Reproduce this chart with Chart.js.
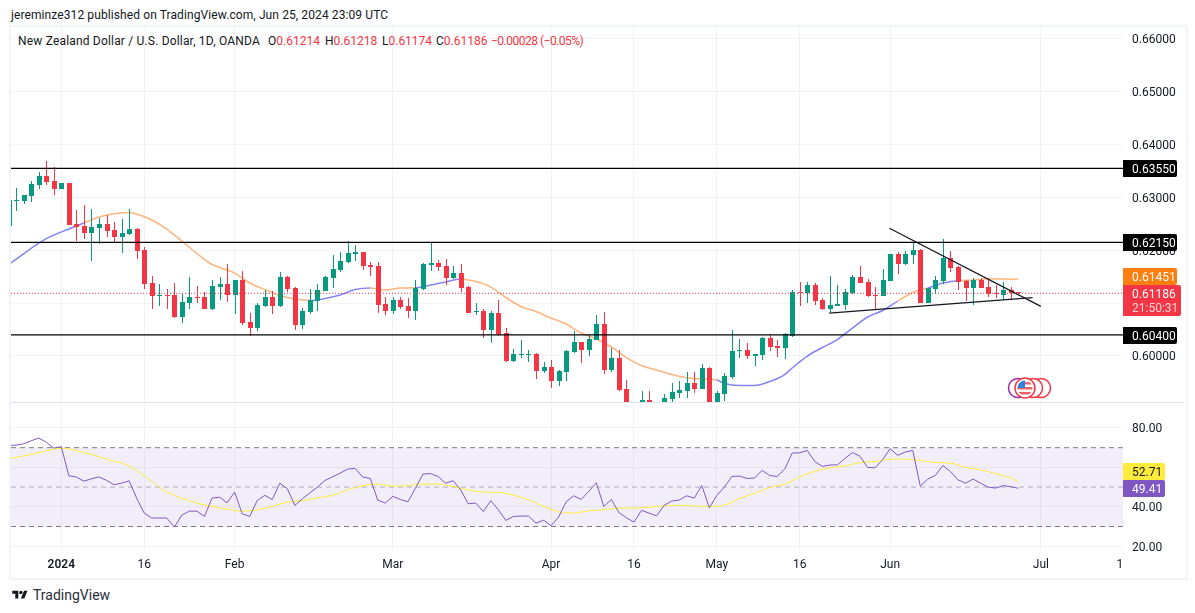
<!DOCTYPE html>
<html><head><meta charset="utf-8">
<style>
html,body{margin:0;padding:0;background:#fff;width:1195px;height:613px;overflow:hidden}
body{position:relative;font-family:Roboto,sans-serif;color:#131722}
canvas{position:absolute;left:0}
.t{position:absolute;white-space:pre;font-size:12px;line-height:14px;letter-spacing:.1px}
.r{color:#f23645}
#frame{position:absolute;left:9px;top:25px;width:1175px;height:551px;border:2px solid #f0f3fa}
#sep{position:absolute;left:11px;top:402px;width:1173px;height:1px;background:#e0e3eb}
</style></head><body>
<div id="frame"></div>
<div class="t" style="left:11px;top:8px">jereminze312 published on TradingView.com, Jun 25, 2024 23:09 UTC</div>
<div class="t" style="left:18px;top:34px;letter-spacing:.18px">New Zealand Dollar / U.S. Dollar, 1D, OANDA</div>
<div class="t" style="left:268px;top:34px;letter-spacing:0">O<span class="r">0.61214</span></div>
<div class="t" style="left:325px;top:34px;letter-spacing:0">H<span class="r">0.61218</span></div>
<div class="t" style="left:382px;top:34px;letter-spacing:0">L<span class="r">0.61174</span></div>
<div class="t" style="left:436px;top:34px;letter-spacing:0">C<span class="r">0.61186</span></div>
<div class="t r" style="left:491px;top:34px;letter-spacing:-.5px">−0.00028 (−0.05%)</div>
<canvas id="price" width="1195" height="375" style="top:27px;width:1195px;height:375px"></canvas>
<canvas id="rsi" width="1195" height="175" style="top:403px;width:1195px;height:175px"></canvas>
<div id="sep"></div>
<svg style="position:absolute;left:10px;top:589px" width="20" height="12" viewBox="0 0 36 28"><path fill="#131722" d="M14 22H7V11H0V4h14v18zM28 22h-8l7.5-18h8L28 22z"/><circle fill="#131722" cx="20" cy="8" r="4"/></svg>
<div class="t" style="left:33px;top:587px;font-size:14px;line-height:16px;color:#2a2e39;letter-spacing:0">TradingView</div>
<script src="https://cdn.jsdelivr.net/npm/chart.js@4/dist/chart.umd.min.js"></script>
<script>
const firstBar = -7;
const opens = [.6246,.6294,.62934,.63028,.63236,.63407,.63312,
.63161,.63274,.62498,.6246,.62328,.62422,.62498,.62385,.62252,.62309,
.62404,.62006,.61381,.61135,.61154,.61154,.60738,.61003,.61116,.61116,
.60889,.61306,.61362,.61154,.61438,.60643,.60529,.60946,.61116,.60946,
.61495,.61287,.60586,.60832,.6104,.6123,.61475,.61627,.61778,.6193,
.61968,.61721,.61703,.60983,.60851,.61059,.60945,.60851,.61267,.61721,
.61759,.61703,.61475,.6157,.61305,.60832,.60851,.60491,.60813,.60434,
.59904,.60018,.60018,.60037,.59715,.59791,.59526,.59696,.60075,.60264,
.60112,.60302,.60605,.59734,.59961,.59374,.5895,.5895,.59166,.5895,
.5905,.59185,.59299,.59337,.59488,.59374,.59772,.5895,.5928,.59601,
.60094,.60113,.59999,.60018,.6034,.60188,.6015,.60378,.61211,.61192,
.61344,.6106,.60889,.60946,.60965,.61192,.61495,.614,.61154,.61135,
.61419,.6193,.61741,.61911,.62006,.61003,.61268,.61419,.61855,.61684,
.61419,.61287,.61438,.61306,.61192,.6115,.61249,.61214];
const highs = [.62952,.6318,.63047,.63312,.63483,.63691,.63577,
.63274,.63274,.62763,.62858,.62782,.62612,.62669,.62536,.62593,.62782,
.62422,.62063,.61514,.61362,.61268,.61381,.61179,.61495,.61325,.61211,
.61438,.61495,.61741,.61438,.61609,.60813,.61003,.61249,.6123,.6159,
.61514,.61306,.60907,.61267,.61362,.61513,.61911,.61968,.62176,.621,
.61968,.61778,.61778,.61116,.61116,.61116,.61097,.61437,.61759,.62157,
.61816,.61835,.61703,.6174,.61324,.61002,.60889,.60851,.61059,.60529,
.60131,.60302,.60112,.60056,.59885,.59923,.59734,.60112,.60472,.60264,
.60396,.60775,.6083,.6015,.60113,.59545,.5905,.59336,.59336,.591,
.5928,.59488,.59526,.59696,.59696,.59848,.59791,.59337,.59677,.60491,
.60321,.60245,.60037,.60359,.60397,.60302,.60434,.61249,.614,.614,
.61381,.61097,.61514,.61344,.61268,.61533,.61703,.61457,.61306,.61646,
.6193,.61968,.61987,.62158,.62025,.61287,.61514,.62214,.61987,.61703,
.61438,.61476,.61476,.61476,.61344,.614,.61306,.61218];
const lows = [.6246,.62751,.62877,.62915,.63161,.63236,.63047,
.63161,.62479,.62176,.62214,.61798,.6212,.62252,.62157,.61949,.6229,
.61836,.61268,.60889,.60946,.60889,.60719,.60624,.60889,.61003,.60889,
.6087,.61059,.61022,.60794,.60586,.60378,.60473,.60927,.60794,.60927,
.61211,.60492,.6051,.60794,.60851,.6123,.61286,.61589,.61759,.61797,
.61627,.61513,.60813,.60775,.60794,.60889,.60718,.6068,.61248,.61608,
.61608,.61343,.61456,.6121,.60813,.60775,.6034,.60245,.60377,.59885,
.59885,.59961,.59885,.59563,.59677,.59393,.59431,.59526,.60056,.59866,
.59999,.60302,.59658,.59696,.59337,.588,.588,.588,.588,.588,
.589,.5905,.59204,.59204,.59299,.59374,.5885,.5885,.59147,.59564,
.59961,.59942,.5981,.59923,.60094,.5998,.59942,.60359,.60946,.61003,
.60965,.6087,.60832,.60946,.6087,.61173,.61381,.61116,.6087,.61135,
.61419,.61552,.61722,.61741,.61003,.61003,.61173,.61362,.6159,.61249,
.61041,.60965,.61287,.61116,.61097,.6106,.6106,.61174];
const closes = [.62952,.62952,.63047,.63255,.63407,.63293,.63161,
.63274,.62479,.62441,.62328,.62441,.62498,.62366,.62252,.62328,.62404,
.61987,.61362,.61135,.61154,.61135,.60738,.61022,.61116,.61097,.60889,
.61325,.61362,.61154,.61438,.60624,.60529,.60965,.61116,.60946,.61495,
.61268,.60586,.60851,.61059,.61248,.61495,.61646,.61797,.61949,.61968,
.61703,.61684,.60964,.60851,.61059,.60926,.60851,.61286,.6174,.61759,
.61684,.61475,.6157,.61286,.60813,.60851,.60491,.60813,.60415,.59904,
.60037,.60037,.60037,.59715,.59791,.59526,.59715,.60094,.60264,.60112,
.60321,.60605,.59734,.59961,.59355,.5895,.5885,.59166,.5895,.5905,
.59204,.59318,.59355,.59488,.59374,.59772,.5895,.59299,.5962,.60094,
.60113,.59999,.60037,.6034,.60169,.6015,.60415,.61211,.61192,.61344,
.61041,.60889,.60965,.60984,.61211,.61495,.61381,.61135,.61135,.61438,
.6193,.61741,.6193,.62006,.61003,.61287,.61438,.61855,.61665,.614,
.61287,.61438,.61287,.61173,.61173,.61249,.61192,.61186];
const maBars = [-7,-2,1,3,5,7,9,10,12,14,16,18,20,22,23,25,27,29,31,33,35,37,39,41,43,45,47,49,51,53,55,57,59,61,63,65,67,69,71,73,75,77,79,81,83,85,87,88,90,92,94,96,97,99,101,103,105,107,109,111,113,115,117,119,121,123,125,127];
const maValues = [.61731,.6222,.62403,.62517,.6263,.62693,.62716,.62687,.62574,.62403,.62176,.6194,.61731,.61627,.6157,.61381,.61258,.61144,.61078,.6105,.61088,.61154,.61258,.61286,.61249,.61286,.61292,.61343,.614,.61457,.61409,.61305,.61107,.60936,.60842,.60718,.60605,.60435,.60321,.6017,.59971,.59819,.59734,.59649,.59589,.59564,.59545,.59479,.59441,.59441,.59517,.59649,.59772,.59999,.6016,.60311,.60529,.60738,.60861,.6104,.61201,.61286,.61381,.61425,.61438,.61462,.61455,.61451];
const maAboveRanges = [[2,32],[41,47],[53,87],[111,115],[119,127]];
const levels = [0.6355,0.6215,0.604];
const fallingTrend = [[109.9,.62417],[130,.6094]];
const risingTrend = [[101.9,.60813],[128.9,.61103]];
const lastClose = 0.61186, maLast = 0.61451;
const priceTicks = [.60,.61,.62,.63,.64,.65,.66];
const rsiValues = [71.15,71.3,72.0,73.5,74.9,72.8,69.8,
70.5,55.75,55.1,53.0,54.2,55.2,53.4,51.2,52.0,53.2,
44.4,36.8,34.3,34.3,34.3,29.7,35.8,37.8,37.8,35.1,
44.4,44.9,42.0,47.5,36.5,35.1,43.2,45.8,43.7,52.0,
49.15,40.7,44.1,47.1,50.0,53.4,55.2,57.1,59.1,59.5,
55.1,54.4,43.4,41.9,45.3,43.7,42.55,49.5,56.6,56.9,
55.4,52.0,53.2,48.6,41.5,41.9,37.6,43.1,38.5,33.1,
35.1,35.3,35.3,31.7,33.2,30.4,34.8,42.55,45.6,43.7,
47.8,52.2,40.2,43.7,37.1,34.4,32.2,38.2,36.8,35.4,
40.7,42.9,43.4,45.6,44.4,50.8,39.5,45.8,50.0,55.4,
55.6,54.4,54.6,58.5,55.9,55.4,59.1,67.3,67.4,68.6,
63.0,60.5,61.2,61.3,64.5,67.6,65.6,60.0,59.8,63.9,
69.5,66.1,67.8,68.6,50.5,54.1,55.9,61.0,57.9,53.7,
52.0,54.1,52.0,50.0,49.5,50.8,50.2,49.41];
const rsiMaBars = [-7,-4,-1,0,3,6,9,10,12,14,16,18,20,22,24,26,28,30,32,34,36,38,40,42,44,46,48,50,52,54,56,58,60,62,64,66,68,70,72,74,76,78,80,82,84,86,88,90,92,94,96,98,100,102,104,106,108,110,112,114,116,118,120,122,124,126,127];
const rsiMaValues = [64.4,66.6,69.3,69.8,67.6,64.2,60.8,58.5,52.9,47.5,44.4,41.9,40.2,38.8,37.8,38.5,40.2,42.4,43.1,44.6,45.8,48.6,50.7,51.5,50.5,50.7,51.5,51.5,50.3,48.6,47.5,47.3,45.9,43.6,40.2,37.5,36.8,38,38.5,39.3,39.3,39.8,40.5,40.7,40.4,40.2,40.9,44.2,46.9,49.8,51.5,55.1,58.1,59.8,60.7,62.5,63,64.2,64.2,63.4,62.5,62.2,60,58.8,56.8,54.6,52.71];
const rsiTicks = [20,40,60,80];
const rsiLast = 49.41, rsiMaLast = 52.71;
const timeTickBars = [0,11,23,44,65,76,87,98,110,130,140.5];
const timeTickLabels = ['2024','16','Feb','Mar','Apr','16','May','16','Jun','Jul','1'];

const FONT = 'Roboto, sans-serif', GREEN = '#089981', RED = '#f23645', GRID = 'rgba(42,46,57,0.06)';
const xMin = -6.676, xMax = 140.9;
const barX = i => firstBar + i;
const up = i => closes[i] >= opens[i];
const candleColor = i => up(i) ? GREEN : RED;
const noPad = s => {s.paddingTop=0;s.paddingBottom=0;s.paddingLeft=0;s.paddingRight=0;};
// Tick text sits a little below the gridline in the reference.
const nudgeLabels = s => {
  if(s._nudged) return; s._nudged = true;
  const orig = s.drawLabels;
  s.drawLabels = function(area){const c=this.ctx;c.save();c.translate(0,1.5);orig.call(this,area);c.restore();};
};

// Snap candle bars to whole pixels so wicks and bodies stay crisp.
const snapBars = {id:'snapBars', afterDatasetsUpdate(chart){
  chart.getSortedVisibleDatasetMetas().forEach(m=>{
    if(m.type!=='bar') return;
    m.data.forEach(el=>{
      el.x = Math.round(el.x)+0.5; el.y = Math.round(el.y); el.base = Math.round(el.base);
      if(Math.abs(el.y-el.base)<1) el.base = el.y+1;
    });
  });
}};
function tag(ctx, top, h, w, bg, lines){
  ctx.fillStyle = bg; ctx.beginPath(); ctx.roundRect(1123, top, w, h, [0,2,2,0]); ctx.fill();
  ctx.textBaseline='middle'; ctx.textAlign='left'; ctx.font='12px '+FONT;
  lines.forEach(l=>{ctx.fillStyle=l.c; ctx.fillText(l.t,1132,l.y);});
}
function flag(ctx){
  const rings=[[1018,388,'#9c27b0'],[1041,388,RED],[1033,388,RED]];
  ctx.lineWidth=1.5;
  rings.forEach(r=>{ctx.beginPath();ctx.arc(r[0],r[1],9.5,0,Math.PI*2);ctx.fillStyle='#fff';ctx.fill();ctx.strokeStyle=r[2];ctx.stroke();});
  const cx=1025,cy=388;
  ctx.beginPath();ctx.arc(cx,cy,10,0,Math.PI*2);ctx.fillStyle='#fff';ctx.fill();ctx.strokeStyle=RED;ctx.stroke();
  ctx.save();ctx.beginPath();ctx.arc(cx,cy,7.5,0,Math.PI*2);ctx.clip();
  ctx.fillStyle='#fff';ctx.fillRect(cx-8,cy-8,16,16);
  ctx.fillStyle='#f0616d';[-6,-1,4].forEach(d=>ctx.fillRect(cx-8,cy+d,16,2.5));
  ctx.fillStyle='#2f80d8';ctx.fillRect(cx-8,cy-8,8,8);
  ctx.restore();
}
const priceTags = {id:'priceTags', afterDraw(chart){
  const ctx=chart.ctx, y=chart.scales.y; ctx.save();
  levels.forEach(v=>{const p=Math.round(y.getPixelForValue(v));
    tag(ctx,p-8,17,54,'#000',[{t:v.toFixed(5),c:'#fff',y:p+2}]);});
  const p=Math.round(y.getPixelForValue(lastClose));
  tag(ctx,p-25,17,54,'#ff7f0e',[{t:maLast.toFixed(5),c:'#fff',y:p-15}]);
  tag(ctx,p-8,31,58,RED,[{t:lastClose.toFixed(5),c:'#fff',y:p+2},{t:'21:50:31',c:'#fdd0d4',y:p+16}]);
  ctx.restore();
  ctx.save(); ctx.translate(0,-27); flag(ctx); ctx.restore();
}};
const rsiTags = {id:'rsiTags', afterDraw(chart){
  const ctx=chart.ctx, y=chart.scales.y; ctx.save();
  const p=Math.round(y.getPixelForValue(rsiLast));
  tag(ctx,p-25,17,42,'#ffeb3b',[{t:rsiMaLast.toFixed(2),c:'#131722',y:p-15}]);
  tag(ctx,p-8,17,42,'#7e57c2',[{t:rsiLast.toFixed(2),c:'#fff',y:p+2}]);
  ctx.restore();
}};
const xBase = {type:'linear',min:xMin,max:xMax,offset:false,
  afterBuildTicks(s){s.ticks=timeTickBars.map(v=>({value:v}));},
  grid:{color:c=>c.tick&&c.tick.value===140.5?'transparent':GRID,drawTicks:false,offset:false},border:{display:false}};
const hline = (v,col,w,dash,order)=>({type:'line',data:[{x:xMin,y:v},{x:xMax,y:v}],borderColor:col,borderWidth:w,borderDash:dash,pointRadius:0,order});
const seg = (pts,col,w,order)=>({type:'line',data:pts.map(p=>({x:p[0],y:p[1]})),borderColor:col,borderWidth:w,pointRadius:0,order});

new Chart(document.getElementById('price'),{
  type:'bar',
  plugins:[snapBars,priceTags],
  data:{datasets:[
    ...levels.map(v=>hline(v,'#000',1.25,[],1)),
    seg(fallingTrend,'#131722',1.25,1), seg(risingTrend,'#131722',1.25,1),
    hline(lastClose,RED,1,[1,2],2),
    {type:'bar',data:opens.map((o,i)=>({x:barX(i),y:[o,closes[i]]})),backgroundColor:opens.map((o,i)=>candleColor(i)),barThickness:5,grouped:false,inflateAmount:0,borderWidth:0,order:3},
    {type:'bar',data:highs.map((h,i)=>({x:barX(i),y:[lows[i],h]})),backgroundColor:highs.map((h,i)=>candleColor(i)),barThickness:1,grouped:false,inflateAmount:0,borderWidth:0,order:4},
    {type:'line',data:maValues.map((v,i)=>({x:maBars[i],y:v})),borderWidth:1.5,pointRadius:0,cubicInterpolationMode:'monotone',order:5,borderColor:'#ffb47d',
     segment:{borderColor:c=>maAboveRanges.some(r=>c.p0.parsed.x>=r[0]&&c.p0.parsed.x<r[1])?'#ffb47d':'#8583f8'}}
  ]},
  options:{responsive:false,animation:false,devicePixelRatio:1,events:[],
    layout:{padding:{left:11,right:0,top:0,bottom:0}},
    plugins:{legend:{display:false},tooltip:{enabled:false}},
    scales:{
      x:{...xBase,ticks:{display:false},afterFit(s){s.height=0;noPad(s);}},
      y:{type:'linear',position:'right',min:.59129,max:.66227,
        afterBuildTicks(s){s.ticks=priceTicks.map(v=>({value:v}));},
        afterFit(s){s.width=72;noPad(s);nudgeLabels(s);},
        grid:{color:GRID,drawTicks:false},border:{display:false},
        ticks:{crossAlign:'near',padding:9,color:'#131722',font:{family:FONT,size:12},callback:v=>(+v).toFixed(5)}}
    }}
});
new Chart(document.getElementById('rsi'),{
  type:'line',
  plugins:[rsiTags],
  data:{datasets:[
    {data:rsiValues.map((v,i)=>({x:barX(i),y:v})),borderColor:'#7e57c2',borderWidth:1,pointRadius:0,order:1},
    {data:rsiMaBars.map((b,i)=>({x:b,y:rsiMaValues[i]})),borderColor:'#ffeb3b',borderWidth:1,pointRadius:0,cubicInterpolationMode:'monotone',order:2},
    {data:[{x:xMin,y:70},{x:xMax,y:70}],borderColor:'#787b86',borderWidth:1,borderDash:[5,4],pointRadius:0,fill:'+1',backgroundColor:'rgba(126,87,194,0.1)',order:3},
    {data:[{x:xMin,y:30},{x:xMax,y:30}],borderColor:'#787b86',borderWidth:1,borderDash:[5,4],pointRadius:0,order:3},
    hline(50,'rgba(120,123,134,0.55)',1,[5,4],3)
  ]},
  options:{responsive:false,animation:false,devicePixelRatio:1,events:[],
    layout:{padding:{left:11,right:0,top:0,bottom:0}},
    plugins:{legend:{display:false},tooltip:{enabled:false}},
    scales:{
      x:{...xBase,afterFit(s){s.height=28;noPad(s);},
        ticks:{autoSkip:false,maxRotation:0,padding:8,color:'#131722',
          font:c=>({family:FONT,size:12,weight:c.tick&&c.tick.value===0?'600':'400'}),
          callback:(v,i)=>timeTickLabels[i]}},
      y:{type:'linear',position:'right',min:18.07,max:92.69,
        afterBuildTicks(s){s.ticks=rsiTicks.map(v=>({value:v}));},
        afterFit(s){s.width=72;noPad(s);nudgeLabels(s);},
        grid:{color:GRID,drawTicks:false},border:{display:false},
        ticks:{crossAlign:'near',padding:9,color:'#131722',font:{family:FONT,size:12},callback:v=>(+v).toFixed(2)}}
    }}
});
</script>
</body></html>
